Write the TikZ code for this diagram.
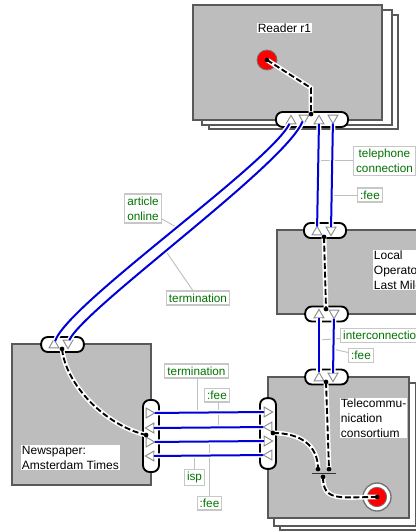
\documentclass[tikz,border=0pt]{standalone}
\usepackage{fontspec}
\setmainfont{Liberation Sans}
\usetikzlibrary{shapes.geometric}

\tikzset{
    sheet/.style={rectangle, draw=black!65, fill=white, line width=1.3pt, anchor=north west, inner sep=0pt, xshift=-0.5pt, yshift=0.5pt},
    party/.style={sheet, fill=black!26},
    port/.style={rectangle, draw=black, fill=white, line width=1.4pt, rounded corners=5pt, inner sep=0pt, minimum width=#1},
    hport/.style={port=#1, minimum height=11.25pt},
    vport/.style={port=12pt, minimum height=#1},
    tri/.style={regular polygon, regular polygon sides=3, draw=black!45, fill=white, line width=0.7pt, minimum size=8.5pt, inner sep=0pt, outer sep=0pt},
    tri up/.style={tri},
    tri down/.style={tri, shape border rotate=180},
    tri right/.style={tri, shape border rotate=-90},
    tri left/.style={tri, shape border rotate=90},
    wire/.style={draw=blue!85!black, line width=1.5pt, preaction={draw=white, line width=3.8pt}},
    chain/.style={draw=black, line width=1.4pt, dash pattern=on 4.5pt off 2pt, preaction={draw=white, solid, line width=3.6pt}},
    dot/.style={circle, fill=black, inner sep=0pt, minimum size=3.4pt},
    name box/.style={fill=white, inner sep=0.5pt, align=left, font=\fontsize{9}{11.25}\selectfont},
    role/.style={draw=black!22, line width=0.8pt, fill=white, text=green!45!black, inner sep=2pt, align=center, font=\fontsize{8.8}{11.25}\selectfont},
    lead/.style={draw=black!25, line width=0.7pt}
}

\begin{document}
\begin{tikzpicture}[x=0.75pt, y=-0.75pt]
    \useasboundingbox (0,0) rectangle (416,531);

    % Parties
    \node[sheet, minimum width=141.75pt, minimum height=85.5pt] (readerC) at (209,15) {};
    \node[sheet, minimum width=142.5pt, minimum height=86.25pt] (readerB) at (202,10) {};
    \node[party, minimum width=141.75pt, minimum height=86.25pt] (reader) at (193,5) {};
    \node[party, minimum width=122.25pt, minimum height=63pt] (local) at (277,230) {};
    \node[party, minimum width=104.25pt, minimum height=105.75pt] (news) at (12,344) {};
    \node[sheet, minimum width=106.5pt, minimum height=105.75pt] (teleC) at (280,389) {};
    \node[sheet, minimum width=106.5pt, minimum height=107.25pt] (teleB) at (274,383) {};
    \node[party, minimum width=105.75pt, minimum height=105.75pt] (tele) at (268,377) {};

    % Ports
    \node[hport=54pt] (Preader) at (312,119.5) {};
    \node[hport=31.5pt] (PlocalA) at (325,230.5) {};
    \node[hport=32pt] (PlocalB) at (326.5,314) {};
    \node[hport=32pt] (PteleA) at (326.5,377) {};
    \node[hport=32pt] (PnewsA) at (62.5,344.5) {};
    \node[vport=54pt] (PnewsB) at (151,436) {};
    \node[vport=53pt] (PteleB) at (268,433.5) {};

    % Triangles
    \node[tri up] (R1) at (291,121) {};
    \node[tri down] (R2) at (304,118) {};
    \node[tri up] (R3) at (319,121) {};
    \node[tri down] (R4) at (333,118) {};
    \node[tri up] (L1) at (317,232) {};
    \node[tri down] (L2) at (331,230) {};
    \node[tri up] (L3) at (319,315) {};
    \node[tri down] (L4) at (334,313) {};
    \node[tri up] (T1) at (319,378) {};
    \node[tri down] (T2) at (333,376) {};
    \node[tri up] (N1) at (54,345) {};
    \node[tri down] (N2) at (68,343) {};
    \node[tri right] (E1) at (149,413) {};
    \node[tri left] (E2) at (151,428) {};
    \node[tri right] (E3) at (149,442) {};
    \node[tri left] (E4) at (151,456) {};
    \node[tri right] (F1) at (267,412) {};
    \node[tri left] (F2) at (269,427) {};
    \node[tri right] (F3) at (267,441) {};
    \node[tri left] (F4) at (269,455) {};

    % Leaders
    \node[role] (article) at (143,208.5) {article\\online};
    \node[role] (term1) at (198,298) {termination};
    \node[role] (phone) at (384.5,161) {telephone\\connection};
    \node[role] (fee1) at (370,195) {:fee};
    \node[role, anchor=west] (inter) at (340,335.5) {interconnection};
    \node[role] (fee2) at (361,355.5) {:fee};
    \node[role] (term2) at (196.5,371) {termination};
    \node[role] (fee3) at (217,395) {:fee};
    \node[role] (isp) at (194.5,477.5) {isp};
    \node[role] (fee4) at (209.5,503) {:fee};
    \coordinate (c1) at (178,228);
    \coordinate (c2) at (165,250);
    \coordinate (c3) at (318,160);
    \coordinate (c4) at (332,195);
    \coordinate (c5) at (319,340);
    \coordinate (c6) at (333,349);
    \coordinate (c7) at (197,412);
    \coordinate (c8) at (218,427);
    \coordinate (c9) at (194,455);
    \coordinate (c10) at (209,441);
    \draw[lead] (article) -- (c1);
    \draw[lead] (term1) -- (c2);
    \draw[lead] (phone.west |- c3) -- (c3);
    \draw[lead] (fee1) -- (c4);
    \draw[lead] (inter) -- (c5);
    \draw[lead] (fee2) -- (c6);
    \draw[lead] (term2.south -| c7) -- (c7);
    \draw[lead] (fee3.south -| c8) -- (c8);
    \draw[lead] (isp.north -| c9) -- (c9);
    \draw[lead] (fee4.north -| c10) -- (c10);

    % Channels
    \draw[wire] (N1) .. controls (66,305) and (268,165) .. (R1);
    \draw[wire] (N2) .. controls (84,308) and (285,165) .. (R2);
    \draw[wire] (R3) -- (L1);
    \draw[wire] (R4) -- (L2);
    \draw[wire] (L3) -- (T1);
    \draw[wire] (L4) -- (T2);
    \draw[wire] (E1) -- (F1);
    \draw[wire] (E2) -- (F2);
    \draw[wire] (E3) -- (F3);
    \draw[wire] (E4) -- (F4);

    % Internal bindings
    \node[circle, draw=black!55, fill=white, line width=1pt, minimum size=21pt, inner sep=0pt] (ring) at (377,497) {};
    \node[circle, draw=black!55, fill=red, line width=0.6pt, minimum size=14.5pt, inner sep=0pt] (actB) at (377,497) {};
    \node[circle, draw=black!55, fill=red, line width=0.6pt, minimum size=15pt, inner sep=0pt] (actA) at (267,60) {};
    \node[dot] (d1) at (267,60) {};
    \coordinate (bend) at (311,88);
    \node[dot] (d2) at (311,114) {};
    \node[dot] (d3) at (324,237) {};
    \node[dot] (d4) at (326,309) {};
    \node[dot] (d5) at (326,382) {};
    \node[dot] (d6) at (329,469) {};
    \node[dot] (d7) at (62,349) {};
    \node[dot] (d8) at (146,435) {};
    \node[dot] (d9) at (273,433) {};
    \node[dot] (d10) at (318,469) {};
    \node[dot] (d11) at (323,477) {};
    \node[dot] (d12) at (377,497) {};
    \coordinate (barL) at (312,473);
    \coordinate (barR) at (336,473);
    \draw[chain] (d1.center) -- (bend) -- (d2.center);
    \draw[chain] (d3.center) -- (d4.center);
    \draw[chain] (d5.center) -- (d6.center);
    \draw[chain] (d7.center) .. controls (66,385) and (105,425) .. (d8.center);
    \draw[chain] (d9.center) .. controls (300,433) and (318,445) .. (d10.center);
    \draw[chain] (d11.center) .. controls (323,502) and (340,497) .. (d12.center);
    \draw[black!80, line width=0.7pt] (barL) -- (barR);
    \node[dot] at (d1) {};
    \node[dot] at (d2) {};
    \node[dot] at (d3) {};
    \node[dot] at (d4) {};
    \node[dot] at (d5) {};
    \node[dot] at (d6) {};
    \node[dot] at (d7) {};
    \node[dot] at (d8) {};
    \node[dot] at (d9) {};
    \node[dot] at (d10) {};
    \node[dot] at (d11) {};
    \node[dot] at (d12) {};

    % Names
    \node[name box] (nameR) at (284.5,28) {Reader r1};
    \node[name box, anchor=north west] (nameL) at (373,250) {Local\\Operator\\Last Mile};
    \node[name box, anchor=north west] (nameN) at (21,445) {Newspaper:\\Amsterdam Times};
    \node[name box, anchor=north west] (nameT) at (340,398) {Telecommu-\\nication\\consortium};
\end{tikzpicture}
\end{document}
